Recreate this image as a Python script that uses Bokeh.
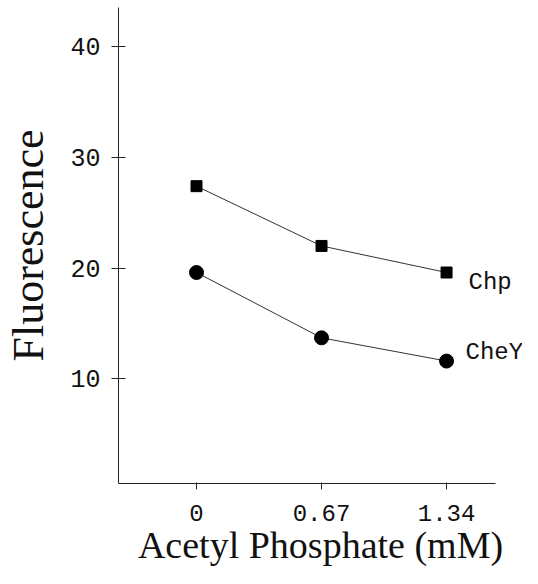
from bokeh.plotting import figure
from bokeh.models import FixedTicker, Range1d, Label
from bokeh.embed import file_html
from bokeh.resources import INLINE

# data
acetyl_phosphate = [0, 0.67, 1.34]
chp = [27.4, 22.0, 19.6]
chey = [19.6, 13.7, 11.6]
x_ticks = [0, 0.67, 1.34]
x_tick_labels = {0: "0", 0.67: "0.67", 1.34: "1.34"}
y_ticks = [10, 20, 30, 40]
series_names = ["Chp", "CheY"]

p = figure(width=522, height=568, output_backend="svg", toolbar_location=None,
           x_range=Range1d(-0.418, 1.747), y_range=Range1d(0.54, 43.54),
           min_border_left=118, min_border_right=0, min_border_top=7,
           min_border_bottom=85)
p.outline_line_color = None
p.grid.visible = False
p.background_fill_color = "white"
p.border_fill_color = "white"

p.line(acetyl_phosphate, chp, line_color="#333333", line_width=1)
p.line(acetyl_phosphate, chey, line_color="#333333", line_width=1)
p.scatter(acetyl_phosphate, chp, marker="square", size=11, color="black")
p.scatter(acetyl_phosphate, chey, marker="circle", size=14, color="black")

mono = "Liberation Mono"
p.add_layout(Label(x=acetyl_phosphate[-1], y=chp[-1], text=series_names[0],
                   x_offset=22, y_offset=-10, text_font=mono, text_font_size="24px",
                   text_baseline="middle", text_color="#111111"))
p.add_layout(Label(x=acetyl_phosphate[-1], y=chey[-1], text=series_names[1],
                   x_offset=19, y_offset=9, text_font=mono, text_font_size="24px",
                   text_baseline="middle", text_color="#111111"))

xa = p.xaxis[0]
xa.ticker = FixedTicker(ticks=x_ticks)
xa.bounds = (-0.418, 1.602)
xa.major_label_overrides = x_tick_labels
xa.minor_tick_line_color = None
xa.major_tick_in = 1
xa.major_tick_out = 6
xa.major_label_standoff = 15
xa.major_label_text_font = mono
xa.major_label_text_font_size = "24px"
xa.major_label_text_color = "#111111"
xa.axis_label = "Acetyl Phosphate (mM)"
xa.axis_label_text_font = "Liberation Serif"
xa.axis_label_text_font_style = "normal"
xa.axis_label_text_font_size = "38px"
xa.axis_label_standoff = 0
xa.axis_label_text_color = "#111111"

ya = p.yaxis[0]
ya.ticker = FixedTicker(ticks=y_ticks)
ya.minor_tick_line_color = None
ya.major_tick_in = 7
ya.major_tick_out = 7
ya.major_label_standoff = 11
ya.major_label_text_font = mono
ya.major_label_text_font_size = "25px"
ya.major_label_text_color = "#111111"
ya.axis_label = "Fluorescence"
ya.axis_label_text_font = "Liberation Serif"
ya.axis_label_text_font_style = "normal"
ya.axis_label_text_font_size = "44px"
ya.axis_label_standoff = 14
ya.axis_label_text_color = "#111111"

for ax in (xa, ya):
    ax.axis_line_color = "#222222"
    ax.major_tick_line_color = "#222222"

open("out.html", "w").write(file_html(p, INLINE))
